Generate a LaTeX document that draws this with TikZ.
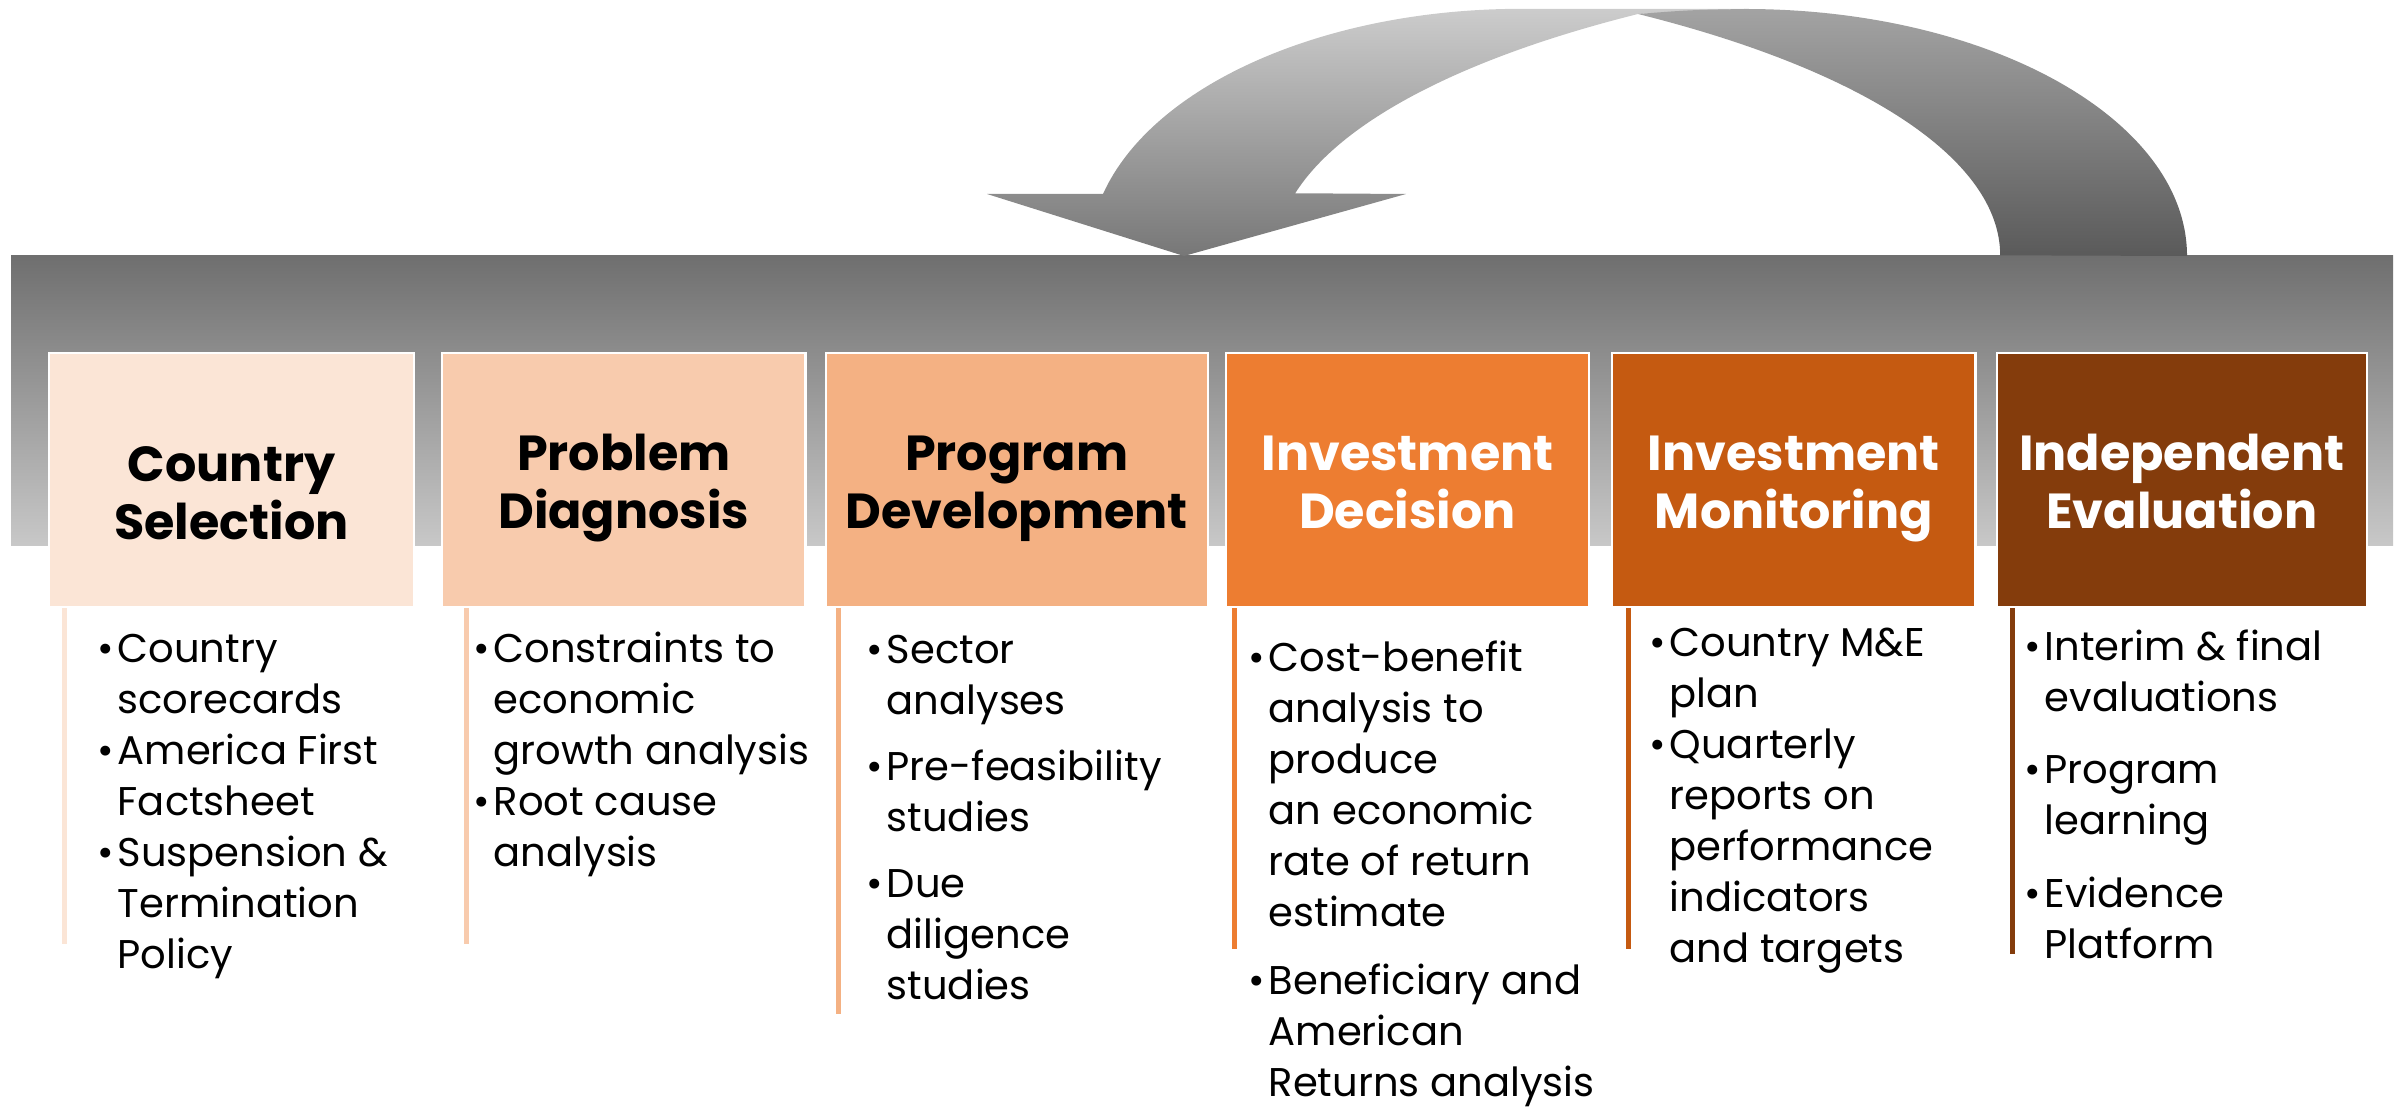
\documentclass[tikz,border=0pt]{standalone}
\usepackage{fontspec}
\setmainfont{Poppins}
\usetikzlibrary{positioning}

\definecolor{fase1}{HTML}{FBE5D6}
\definecolor{fase2}{HTML}{F8CBAD}
\definecolor{fase3}{HTML}{F4B183}
\definecolor{fase4}{HTML}{ED7D31}
\definecolor{fase5}{HTML}{C55A11}
\definecolor{fase6}{HTML}{843C0C}
\definecolor{railtop}{HTML}{6F6F6F}
\definecolor{railbot}{HTML}{C8C8C8}
\definecolor{looptop}{HTML}{CCCCCC}
\definecolor{loopbot}{HTML}{777777}
\definecolor{backtop}{HTML}{A3A3A3}
\definecolor{backbot}{HTML}{5A5A5A}

% bullet and hanging indent for the task lists
\newcommand{\bul}{\makebox[0.2cm][l]{\textbullet}}
\newcommand{\cnt}{\hspace*{0.2cm}}
% two-line stage title with fixed top and bottom, so all titles sit alike
\newcommand{\twolines}[3][1.09em]{\rule{0pt}{#1}#2\\#3\rule[-0.3em]{0pt}{0.3em}}

\begin{document}
\begin{tikzpicture}[x=0.01cm, y=0.01cm, node distance=0.2cm]

\tikzstyle{stage}=[rectangle, draw=white, line width=0.6pt, minimum width=3.63cm, minimum height=2.54cm, inner sep=0pt, align=center, font=\fontsize{14}{16.5}\selectfont\bfseries]
\tikzstyle{tasks}=[anchor=base west, inner sep=0pt, font=\fontsize{11.4}{14.5}\selectfont]
\tikzstyle{stem}=[line width=1.4pt]

\useasboundingbox (0,0) rectangle (2403,-1107);

% grey rail behind the stages
\shade[top color=railtop, bottom color=railbot] (11,-256) rectangle (2393,-546);

% loop arrow: light front leg with the head, then the dark back leg over it
\shade[top color=looptop, bottom color=loopbot]
  (1103,-194) arc[start angle=165.5, end angle=90, x radius=432, y radius=247]
  -- (1745,-9) -- (1638,-14)
  arc[start angle=126.7, end angle=168.1, x radius=900, y radius=301]
  -- (1406,-194) -- (1184,-256) -- (987,-194) -- cycle;
\shade[top color=backtop, bottom color=backbot]
  (2187,-256) arc[start angle=0, end angle=90, x radius=442, y radius=247]
  .. controls (1690,-10) .. (1638,-14)
  arc[start angle=53.3, end angle=0, x radius=900, y radius=301] -- cycle;

% the six stages
\node[stage, fill=fase1, minimum width=3.65cm] (country) at (231.5,-480) {\twolines[1.54em]{Country}{Selection}};
\node[stage, fill=fase2, right=0.26cm of country] (problem) {\twolines{Problem}{Diagnosis}};
\node[stage, fill=fase3, minimum width=3.82cm, right=0.18cm of problem] (program) {\twolines{Program}{Development}};
\node[stage, fill=fase4, text=white, right=0.16cm of program] (decision) {\twolines{Investment}{Decision}};
\node[stage, fill=fase5, text=white, right=0.21cm of decision] (monitoring) {\twolines{Investment}{Monitoring}};
\node[stage, fill=fase6, text=white, minimum width=3.70cm, right=0.19cm of monitoring] (evaluation) {\twolines{Independent}{Evaluation}};

% stems hanging under each stage
\draw[stem, fase1] ([xshift=0.17cm]country.south west) -- ++(0,-336);
\draw[stem, fase2] ([xshift=0.25cm]problem.south west) -- ++(0,-336);
\draw[stem, fase3] ([xshift=0.14cm]program.south west) -- ++(0,-406);
\draw[stem, fase4] ([xshift=0.10cm]decision.south west) -- ++(0,-341);
\draw[stem, fase5] ([xshift=0.17cm]monitoring.south west) -- ++(0,-341);
\draw[stem, fase6] ([xshift=0.17cm]evaluation.south west) -- ++(0,-346);

% task lists
\node[tasks] (countrytasks) at (97,-663) {\begin{tabular}[t]{@{}l@{}}
\bul Country\\ \cnt scorecards\\ \bul America First\\ \cnt Factsheet\\
\bul Suspension \&\\ \cnt Termination\\ \cnt Policy\end{tabular}};
\node[tasks] (problemtasks) at (473,-663) {\begin{tabular}[t]{@{}l@{}}
\bul Constraints to\\ \cnt economic\\ \cnt growth analysis\\ \bul Root cause\\
\cnt analysis\end{tabular}};
\node[tasks] (programtasks) at (866,-664) {\begin{tabular}[t]{@{}l@{}}
\bul Sector\\ \cnt analyses\\[0.15cm] \bul Pre-feasibility\\ \cnt studies\\[0.15cm]
\bul Due\\ \cnt diligence\\ \cnt studies\end{tabular}};
\node[tasks] (decisiontasks) at (1248,-672) {\begin{tabular}[t]{@{}l@{}}
\bul Cost-benefit\\ \cnt analysis to\\ \cnt produce\\ \cnt an economic\\
\cnt rate of return\\ \cnt estimate\\[0.17cm] \bul Beneficiary and\\ \cnt American\\
\cnt Returns analysis\end{tabular}};
\node[tasks] (monitoringtasks) at (1649,-657) {\begin{tabular}[t]{@{}l@{}}
\bul Country M\&E\\ \cnt plan\\ \bul Quarterly\\ \cnt reports on\\
\cnt performance\\ \cnt indicators\\ \cnt and targets\end{tabular}};
\node[tasks] (evaluationtasks) at (2024,-661) {\begin{tabular}[t]{@{}l@{}}
\bul Interim \& final\\ \cnt evaluations\\[0.21cm] \bul Program\\ \cnt learning\\[0.22cm]
\bul Evidence\\ \cnt Platform\end{tabular}};

\end{tikzpicture}
\end{document}
